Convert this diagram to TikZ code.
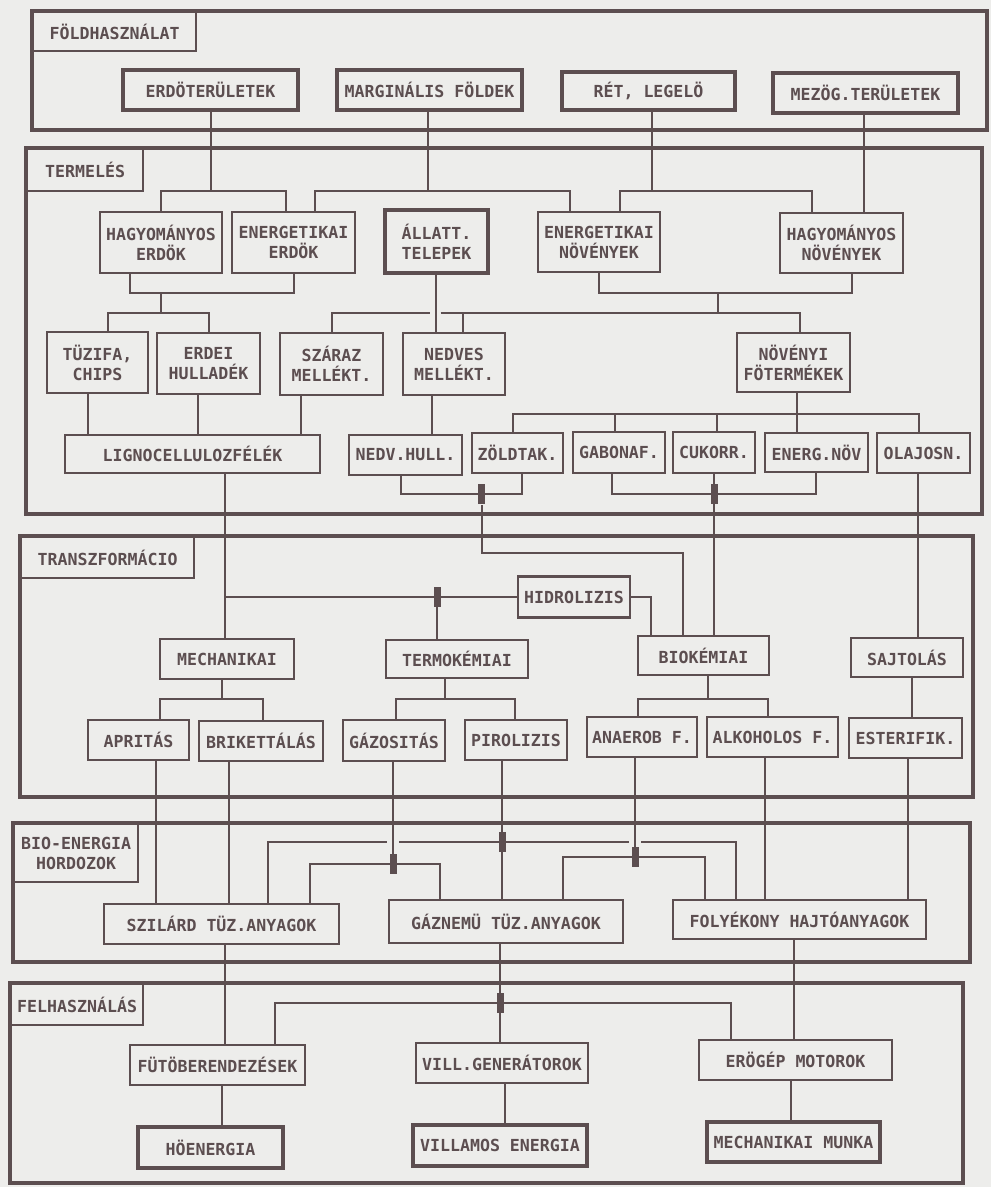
\documentclass[tikz,border=0pt]{standalone}
\usepackage{fontspec}
\setmonofont{DejaVu Sans Mono}

\definecolor{ink}{RGB}{92,78,80}
\definecolor{paper}{RGB}{237,237,235}
\newcommand{\boxfont}{\ttfamily\bfseries\fontsize{16.6}{20}\selectfont}

\tikzset{every picture/.style={line width=2pt}}
\tikzset{
  box/.style={draw=ink, line width=2.2pt, fill=paper, text=ink, inner sep=1pt, align=center, font=\boxfont},
  thickbox/.style={box, line width=4.5pt},
  tag/.style={box, anchor=north west},
  frame/.style={draw=ink, line width=4pt},
  junc/.style={fill=ink, draw=none, inner sep=0pt, minimum width=7, minimum height=20}
}

\begin{document}
\begin{tikzpicture}[x=1pt,y=1pt,yscale=-1,xscale=1,color=ink]
    %set diagram size: 991 x 1187
    \fill[paper] (0,0) rectangle (991,1187);
    \useasboundingbox (0,0) rectangle (991,1187);

    %Frames
    \draw[frame] (32,11) rectangle (987,130);
    \draw[frame] (26,148) rectangle (982,514);
    \draw[frame] (20,536) rectangle (973,797);
    \draw[frame] (13,823) rectangle (970,962);
    \draw[frame] (10,983) rectangle (963,1183);

    %Frame labels
    \node[tag, minimum width=163, minimum height=39] (lfold) at (32,11) {FÖLDHASZNÁLAT};
    \node[tag, minimum width=116, minimum height=42] (lterm) at (26,148) {TERMELÉS};
    \node[tag, minimum width=173, minimum height=41] (ltran) at (20,536) {TRANSZFORMÁCIO};
    \node[tag, minimum width=124, minimum height=58] (lbio) at (13,823) {BIO-ENERGIA\\HORDOZOK};
    \node[tag, minimum width=132, minimum height=41] (lfelh) at (10,983) {FELHASZNÁLÁS};

    %Bus levels
    \coordinate (b1) at (0,191);
    \coordinate (b2) at (0,293);
    \coordinate (b3) at (0,313);
    \coordinate (b4) at (0,414);
    \coordinate (b5) at (0,494);
    \coordinate (b6) at (0,553);
    \coordinate (b8) at (0,699);
    \coordinate (b9) at (0,842);
    \coordinate (b10) at (0,864);
    \coordinate (b11) at (0,857);
    \coordinate (b12) at (0,1003);
    \coordinate (j2) at (718,293);

    %Land use
    \node[thickbox, minimum width=175, minimum height=40] (erdter) at (210.5,90) {ERDÖTERÜLETEK};
    \node[thickbox, minimum width=185, minimum height=40] (margfld) at (429.5,90) {MARGINÁLIS FÖLDEK};
    \node[thickbox, minimum width=173, minimum height=38] (retleg) at (648.5,91) {RÉT, LEGELÖ};
    \node[thickbox, minimum width=185, minimum height=40] (mezter) at (865.5,93) {MEZÖG.TERÜLETEK};

    %Production
    \node[box, minimum width=122, minimum height=61] (hagyerd) at (161,242.5) {HAGYOMÁNYOS\\ERDÖK};
    \node[box, minimum width=123, minimum height=61] (energerd) at (293.5,242.5) {ENERGETIKAI\\ERDÖK};
    \node[thickbox, minimum width=103, minimum height=63] (allat) at (436.5,241.5) {ÁLLATT.\\TELEPEK};
    \node[box, minimum width=122, minimum height=60] (enernov) at (599,242) {ENERGETIKAI\\NÖVÉNYEK};
    \node[box, minimum width=123, minimum height=60] (hagynov) at (841.5,243) {HAGYOMÁNYOS\\NÖVÉNYEK};

    \node[box, minimum width=101, minimum height=61] (tuzifa) at (97.5,362.5) {TÜZIFA,\\CHIPS};
    \node[box, minimum width=103, minimum height=61] (erdhul) at (208.5,363.5) {ERDEI\\HULLADÉK};
    \node[box, minimum width=103, minimum height=62] (szaraz) at (331.5,364) {SZÁRAZ\\MELLÉKT.};
    \node[box, minimum width=102, minimum height=62] (nedves) at (454,364) {NEDVES\\MELLÉKT.};
    \node[box, minimum width=113, minimum height=59] (novfo) at (793.5,362.5) {NÖVÉNYI\\FÖTERMÉKEK};

    \node[box, minimum width=255, minimum height=38] (ligno) at (192.5,454) {LIGNOCELLULOZFÉLÉK};
    \node[box, minimum width=113, minimum height=40] (nedvhul) at (405.5,455) {NEDV.HULL.};
    \node[box, minimum width=91, minimum height=40] (zoldtak) at (517.5,453) {ZÖLDTAK.};
    \node[box, minimum width=92, minimum height=41] (gabona) at (619,452.5) {GABONAF.};
    \node[box, minimum width=82, minimum height=41] (cukorr) at (714,452.5) {CUKORR.};
    \node[box, minimum width=103, minimum height=39] (energnov) at (816.5,452.5) {ENERG.NÖV};
    \node[box, minimum width=93, minimum height=40] (olajos) at (923.5,453) {OLAJOSN.};

    %Transformation
    \node[box, minimum width=112, minimum height=41] (hidro) at (574,597) {HIDROLIZIS};
    \node[box, minimum width=134, minimum height=40] (mech) at (227,659) {MECHANIKAI};
    \node[box, minimum width=142, minimum height=38] (termo) at (457,659) {TERMOKÉMIAI};
    \node[box, minimum width=131, minimum height=39] (bioke) at (703.5,655.5) {BIOKÉMIAI};
    \node[box, minimum width=112, minimum height=39] (sajto) at (907,657.5) {SAJTOLÁS};

    \node[box, minimum width=101, minimum height=40] (aprit) at (138.5,740) {APRITÁS};
    \node[box, minimum width=124, minimum height=40] (brik) at (261,741) {BRIKETTÁLÁS};
    \node[box, minimum width=102, minimum height=41] (gazos) at (394,740.5) {GÁZOSITÁS};
    \node[box, minimum width=102, minimum height=40] (pirol) at (516,740) {PIROLIZIS};
    \node[box, minimum width=110, minimum height=40] (anaer) at (642,737) {ANAEROB F.};
    \node[box, minimum width=131, minimum height=40] (alkoh) at (772.5,737) {ALKOHOLOS F.};
    \node[box, minimum width=113, minimum height=40] (ester) at (905.5,738) {ESTERIFIK.};

    %Bio-energy carriers
    \node[box, minimum width=235, minimum height=40] (szilard) at (221.5,924) {SZILÁRD TÜZ.ANYAGOK};
    \node[box, minimum width=234, minimum height=43] (gaznem) at (506,921.5) {GÁZNEMÜ TÜZ.ANYAGOK};
    \node[box, minimum width=253, minimum height=39] (folyek) at (799.5,919.5) {FOLYÉKONY HAJTÓANYAGOK};

    %Use
    \node[box, minimum width=175, minimum height=40] (futo) at (217.5,1065) {FÜTÖBERENDEZÉSEK};
    \node[box, minimum width=172, minimum height=40] (villgen) at (502,1063) {VILL.GENERÁTOROK};
    \node[box, minimum width=193, minimum height=40] (erogep) at (795.5,1060) {ERÖGÉP MOTOROK};
    \node[thickbox, minimum width=145, minimum height=41] (hoen) at (210.5,1147.5) {HÖENERGIA};
    \node[thickbox, minimum width=174, minimum height=41] (villen) at (500,1145.5) {VILLAMOS ENERGIA};
    \node[thickbox, minimum width=173, minimum height=40] (mechm) at (793.5,1142) {MECHANIKAI MUNKA};

    %Land use -> production
    \draw (erdter.south) -- (erdter.south |- b1);
    \draw (hagyerd.north) |- ([xshift=-8]energerd.north |- b1) -- ([xshift=-8]energerd.north);
    \draw ([xshift=-2]margfld.south) -- ([xshift=-2]margfld.south |- b1);
    \draw ([xshift=21]energerd.north) |- ([xshift=-29]enernov.north |- b1) -- ([xshift=-29]enernov.north);
    \draw ([xshift=3]retleg.south) -- ([xshift=3]retleg.south |- b1);
    \draw ([xshift=21]enernov.north) |- ([xshift=-30]hagynov.north |- b1) -- ([xshift=-30]hagynov.north);
    \draw ([xshift=-2]mezter.south) -- ([xshift=-2]mezter.south |- hagynov.north);

    %Production, first to second row
    \draw ([xshift=-31]hagyerd.south) |- (energerd.south |- b2) -- (energerd.south);
    \draw (hagyerd.south |- b2) -- (hagyerd.south |- b3);
    \draw ([xshift=10]tuzifa.north) |- (erdhul.north |- b3) -- (erdhul.north);
    \draw (enernov.south) |- ([xshift=10]hagynov.south |- b2) -- ([xshift=10]hagynov.south);
    \draw (j2) -- (j2 |- b3);
    \draw (szaraz.north) |- ([xshift=-7]allat.south |- b3);
    \draw ([xshift=4]allat.south |- b3) -| ([xshift=6]novfo.north);
    \draw ([xshift=9]nedves.north) -- ([xshift=9]nedves.north |- b3);
    \draw ([xshift=-1]allat.south) -- ([xshift=-1]allat.south |- nedves.north);

    %Production, second to third row
    \draw ([xshift=-10]tuzifa.south) -- ([xshift=-10]tuzifa.south |- ligno.north);
    \draw ([xshift=-11]erdhul.south) -- ([xshift=-11]erdhul.south |- ligno.north);
    \draw ([xshift=-31]szaraz.south) -- ([xshift=-31]szaraz.south |- ligno.north);
    \draw ([xshift=-22]nedves.south) -- ([xshift=-22]nedves.south |- nedvhul.north);
    \draw ([xshift=3]novfo.south) -- ([xshift=3]novfo.south |- energnov.north);
    \draw ([xshift=-5]zoldtak.north) |- ([xshift=-5]olajos.north |- b4) -- ([xshift=-5]olajos.north);
    \draw ([xshift=-4]gabona.north) -- ([xshift=-4]gabona.north |- b4);
    \draw ([xshift=3]cukorr.north) -- ([xshift=3]cukorr.north |- b4);

    %Production -> transformation
    \draw ([xshift=-5]nedvhul.south) |- ([xshift=4]zoldtak.south |- b5) -- ([xshift=4]zoldtak.south);
    \node[junc] (k1) at ([xshift=-36]zoldtak.south |- b5) {};
    \draw (k1.south) |- ([xshift=-21]bioke.north |- b6) -- ([xshift=-21]bioke.north);
    \draw ([xshift=-7]gabona.south) |- ([xshift=-1]energnov.south |- b5) -- ([xshift=-1]energnov.south);
    \draw (cukorr.south) -- (cukorr.south |- bioke.north);
    \node[junc] (k2) at (cukorr.south |- b5) {};
    \draw ([xshift=-6]olajos.south) -- ([xshift=-6]olajos.south |- sajto.north);
    \draw ([xshift=32]ligno.south) -- ([xshift=32]ligno.south |- mech.north);
    \draw ([xshift=32]ligno.south |- hidro.west) -- (hidro.west);
    \draw ([xshift=-20]termo.north) -- ([xshift=-20]termo.north |- hidro.west);
    \node[junc] (k3) at ([xshift=-20]termo.north |- hidro.west) {};
    \draw (hidro.east) -| ([xshift=-53]bioke.north);

    %Transformation, first to second row
    \draw ([xshift=-5]mech.south) -- ([xshift=-5]mech.south |- b8);
    \draw ([xshift=21]aprit.north) |- ([xshift=2]brik.north |- b8) -- ([xshift=2]brik.north);
    \draw ([xshift=-12]termo.south) -- ([xshift=-12]termo.south |- b8);
    \draw ([xshift=2]gazos.north) |- ([xshift=-1]pirol.north |- b8) -- ([xshift=-1]pirol.north);
    \draw ([xshift=4]bioke.south) -- ([xshift=4]bioke.south |- b8);
    \draw ([xshift=-4]anaer.north) |- ([xshift=-5]alkoh.north |- b8) -- ([xshift=-5]alkoh.north);
    \draw ([xshift=5]sajto.south) -- ([xshift=5]sajto.south |- ester.north);

    %Transformation -> carriers
    \draw ([xshift=17]aprit.south) -- ([xshift=17]aprit.south |- szilard.north);
    \draw ([xshift=-32]brik.south) -- ([xshift=-32]brik.south |- szilard.north);
    \draw ([xshift=-1]gazos.south) -- ([xshift=-1]gazos.south |- b10);
    \node[junc] (k4) at ([xshift=-1]gazos.south |- b10) {};
    \draw ([xshift=88]szilard.north) |- ([xshift=-66]gaznem.north |- b10) -- ([xshift=-66]gaznem.north);
    \draw ([xshift=-14]pirol.south) -- ([xshift=-14]pirol.south |- gaznem.north);
    \node[junc] (k5) at ([xshift=-14]pirol.south |- b9) {};
    \draw ([xshift=46]szilard.north) |- ([xshift=-7]gazos.south |- b9);
    \draw ([xshift=5]gazos.south |- b9) -- ([xshift=-13]anaer.south |- b9);
    \draw ([xshift=-1]anaer.south |- b9) -| ([xshift=-64]folyek.north);
    \draw ([xshift=-7]anaer.south) -- ([xshift=-7]anaer.south |- b11);
    \node[junc] (k6) at ([xshift=-7]anaer.south |- b11) {};
    \draw ([xshift=57]gaznem.north) |- ([xshift=-95]folyek.north |- b11) -- ([xshift=-95]folyek.north);
    \draw ([xshift=-8]alkoh.south) -- ([xshift=-8]alkoh.south |- folyek.north);
    \draw ([xshift=2]ester.south) -- ([xshift=2]ester.south |- folyek.north);

    %Carriers -> use
    \draw ([xshift=3]szilard.south) -- ([xshift=3]szilard.south |- futo.north);
    \draw ([xshift=-6]gaznem.south) -- ([xshift=-6]gaznem.south |- villgen.north);
    \node[junc] (k7) at ([xshift=-6]gaznem.south |- b12) {};
    \draw ([xshift=57]futo.north) |- ([xshift=-65]erogep.north |- b12) -- ([xshift=-65]erogep.north);
    \draw ([xshift=-6]folyek.south) -- ([xshift=-6]folyek.south |- erogep.north);
    \draw ([xshift=4]futo.south) -- ([xshift=4]futo.south |- hoen.north);
    \draw ([xshift=3]villgen.south) -- ([xshift=3]villgen.south |- villen.north);
    \draw ([xshift=-5]erogep.south) -- ([xshift=-5]erogep.south |- mechm.north);

\end{tikzpicture}
\end{document}
